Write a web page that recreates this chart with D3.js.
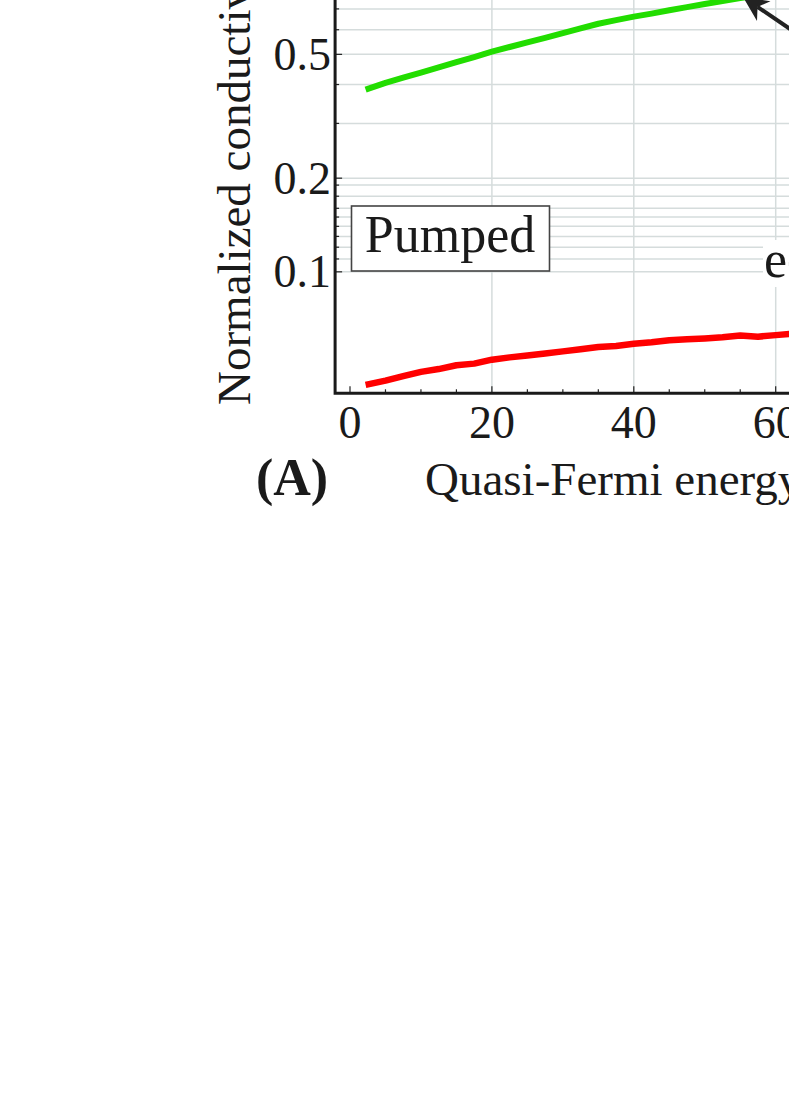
<!DOCTYPE html>
<html>
<head>
<meta charset="utf-8">
<script src="https://cdn.jsdelivr.net/npm/d3@7"></script>
<style>
  body { margin: 0; background: #fff; }
  text { font-family: "Liberation Serif", "Times New Roman", serif; fill: #1a1a1a; }
</style>
</head>
<body>
<script>
// values (energy in meV, conductivity normalized)
var energy = [2.2, 5, 7.5, 10, 12.5, 15, 17.5, 20, 22.5, 25, 27.5, 30, 32.5, 35,
              37.5, 40, 42.5, 45, 47.5, 50, 52.5, 55, 57.5, 60, 62.5, 65];
var greenVals = [0.385, 0.405, 0.421, 0.437, 0.454, 0.472, 0.490, 0.510, 0.528, 0.546,
                 0.565, 0.585, 0.606, 0.627, 0.644, 0.661, 0.676, 0.693, 0.709, 0.726,
                 0.742, 0.758, 0.774, 0.790, 0.805, 0.820];
var redVals = [0.0433, 0.0447, 0.0462, 0.0477, 0.0487, 0.0501, 0.0507, 0.0522, 0.0531, 0.0538,
               0.0546, 0.0555, 0.0564, 0.0573, 0.0578, 0.0587, 0.0594, 0.0603, 0.0607, 0.0611,
               0.0616, 0.0624, 0.0619, 0.0626, 0.0633, 0.0638];

var xTickVals = [0, 20, 40, 60];
var xMinorVals = [5, 10, 15, 25, 30, 35, 45, 50, 55];
var yTickVals = [0.1, 0.2, 0.5];
var yTickLabels = ["0.1", "0.2", "0.5"];
var yGridVals = [0.11, 0.12, 0.13, 0.14, 0.15, 0.16, 0.175, 0.19, 0.3, 0.4, 0.6, 0.7, 0.8, 0.9];

var svg = d3.select("body").append("svg")
    .attr("width", 789).attr("height", 1118);

var x = d3.scaleLinear().domain([0, 60]).range([350, 775.7]);
var y = d3.scaleLog().domain([0.0407, 1]).range([393.3, -39.3]);

var left = x(-2.1), bottom = y(0.0407);

// grid
var grid = svg.append("g").attr("stroke", "#d5dcdc").attr("stroke-width", 1.5);
grid.selectAll(".hg").data(yGridVals.concat(yTickVals)).enter().append("line")
    .attr("x1", left).attr("x2", 789)
    .attr("y1", d => y(d)).attr("y2", d => y(d));
grid.selectAll(".vg").data(xTickVals.slice(1)).enter().append("line")
    .attr("x1", d => x(d)).attr("x2", d => x(d))
    .attr("y1", 0).attr("y2", bottom);

// ticks inside the frame
var ticks = svg.append("g").attr("stroke", "#222").attr("stroke-width", 1.2);
ticks.selectAll(".xt").data(xTickVals).enter().append("line")
    .attr("x1", d => x(d)).attr("x2", d => x(d))
    .attr("y1", bottom).attr("y2", bottom - 7);
ticks.selectAll(".xm").data(xMinorVals).enter().append("line")
    .attr("x1", d => x(d)).attr("x2", d => x(d))
    .attr("y1", bottom).attr("y2", bottom - 4);
ticks.selectAll(".yt").data(yTickVals).enter().append("line")
    .attr("x1", left).attr("x2", left + 7)
    .attr("y1", d => y(d)).attr("y2", d => y(d));
ticks.selectAll(".ym").data(yGridVals).enter().append("line")
    .attr("x1", left).attr("x2", left + 4)
    .attr("y1", d => y(d)).attr("y2", d => y(d));

// curves
var line = d3.line().x(d => x(d[0])).y(d => y(d[1]));
svg.append("path")
    .datum(d3.zip(energy, greenVals))
    .attr("d", line)
    .attr("fill", "none").attr("stroke", "#22dd00")
    .attr("stroke-width", 6).attr("stroke-linejoin", "round");
svg.append("path")
    .datum(d3.zip(energy, redVals))
    .attr("d", line)
    .attr("fill", "none").attr("stroke", "#ff0000")
    .attr("stroke-width", 6.5).attr("stroke-linejoin", "round");

// "Pumped" box
svg.append("rect")
    .attr("x", 351.5).attr("y", 206)
    .attr("width", 198).attr("height", 65)
    .attr("fill", "#fff").attr("stroke", "#444").attr("stroke-width", 1.6);
svg.append("text")
    .attr("x", 450).attr("y", 252)
    .attr("text-anchor", "middle").attr("font-size", 52)
    .text("Pumped");

// label cut at the right edge
svg.append("rect")
    .attr("x", 763).attr("y", 240).attr("width", 60).attr("height", 47)
    .attr("fill", "#fff");
svg.append("text")
    .attr("x", 764).attr("y", 277).attr("font-size", 52)
    .text("e-h plasma");

// arrow pointing to the green curve
var tip = [x(55.4), y(0.764)], tail = [x(69.5), y(0.462)];
var dx = tip[0] - tail[0], dy = tip[1] - tail[1];
var len = Math.sqrt(dx * dx + dy * dy), ux = dx / len, uy = dy / len;
var hl = 25, hw = 12;
svg.append("line")
    .attr("x1", tail[0]).attr("y1", tail[1])
    .attr("x2", tip[0] - ux * hl * 0.7).attr("y2", tip[1] - uy * hl * 0.7)
    .attr("stroke", "#222").attr("stroke-width", 4);
svg.append("path")
    .attr("d", "M" + tip[0] + "," + tip[1] +
      "L" + (tip[0] - ux * hl - uy * hw) + "," + (tip[1] - uy * hl + ux * hw) +
      "L" + (tip[0] - ux * hl * 0.7) + "," + (tip[1] - uy * hl * 0.7) +
      "L" + (tip[0] - ux * hl + uy * hw) + "," + (tip[1] - uy * hl - ux * hw) + "Z")
    .attr("fill", "#222");

// frame
svg.append("path")
    .attr("d", "M" + left + ",0V" + bottom + "H789")
    .attr("fill", "none").attr("stroke", "#1a1a1a").attr("stroke-width", 3);

// tick labels
svg.selectAll(".xl").data(xTickVals).enter().append("text")
    .attr("x", d => x(d)).attr("y", bottom + 45)
    .attr("text-anchor", "middle").attr("font-size", 46)
    .text(d => d);
svg.selectAll(".yl").data(yTickVals).enter().append("text")
    .attr("x", 331).attr("y", d => y(d)).attr("dy", "0.34em")
    .attr("text-anchor", "end").attr("font-size", 46)
    .text((d, i) => yTickLabels[i]);

// axis labels
svg.append("text")
    .attr("x", 425).attr("y", 495).attr("font-size", 47)
    .text("Quasi-Fermi energy (meV)");
svg.append("text")
    .attr("transform", "translate(250,405) rotate(-90)")
    .attr("font-size", 47)
    .text("Normalized conductivity");
svg.append("text")
    .attr("x", 256).attr("y", 495).attr("font-size", 52).attr("font-weight", "bold")
    .text("(A)");
</script>
</body>
</html>
